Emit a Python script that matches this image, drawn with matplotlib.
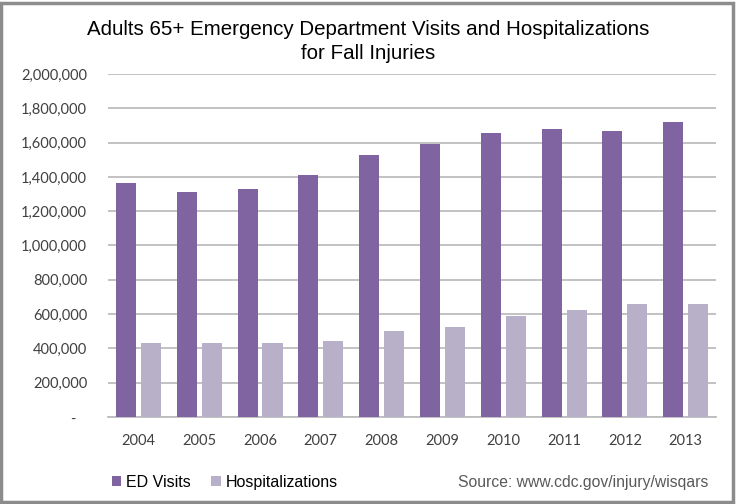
import numpy as np
import matplotlib
matplotlib.use('Agg')
import matplotlib.pyplot as plt
from matplotlib.patches import Rectangle

# dados
anos = ['2004', '2005', '2006', '2007', '2008', '2009', '2010', '2011', '2012', '2013']
ed_visits = [1365000, 1310000, 1329000, 1409000, 1528000, 1592000, 1654000, 1679000, 1666000, 1722000]
hospitalizacoes = [431000, 430000, 430000, 441000, 503000, 523000, 591000, 626000, 657000, 657000]
y_ticks = [0, 200000, 400000, 600000, 800000, 1000000, 1200000, 1400000, 1600000, 1800000, 2000000]
y_labels = ['-   '] + [f'{v:,}' for v in y_ticks[1:]]

cor_ed = '#8064A2'
cor_hosp = '#B8AFC8'
fonte_titulo = ['Liberation Sans', 'DejaVu Sans']
fonte_eixo = ['Lato', 'DejaVu Sans']

fig = plt.figure(figsize=(7.36, 5.04), dpi=100)
ax = fig.add_axes([0.1467, 0.1726, 0.8263, 0.6806])

x = np.arange(len(anos))
largura = 0.33
ax.bar(x - 0.205, ed_visits, largura, color=cor_ed, label='ED Visits', zorder=3)
ax.bar(x + 0.205, hospitalizacoes, largura, color=cor_hosp, label='Hospitalizations', zorder=3)

ax.set_xlim(-0.5, len(anos) - 0.5)
ax.set_ylim(0, 2000000)
ax.set_yticks(y_ticks)
ax.set_yticklabels(y_labels, family=fonte_eixo, fontsize=10.5, color='#404040')
ax.set_xticks(x)
ax.set_xticklabels(anos, family=fonte_eixo, fontsize=10.5, color='#404040')
ax.tick_params(axis='y', length=0, pad=15)
ax.tick_params(axis='x', length=0, pad=12)
ax.grid(axis='y', color='#BDBDBD', linewidth=1.3, zorder=0)
for lado in ['top', 'right', 'left']:
    ax.spines[lado].set_visible(False)
ax.spines['bottom'].set_color('#BDBDBD')
ax.spines['bottom'].set_linewidth(1.3)

fig.text(0.5, 0.917, 'Adults 65+ Emergency Department Visits and Hospitalizations\nfor Fall Injuries',
         ha='center', va='center', fontsize=14.8, family=fonte_titulo, linespacing=1.35)

fig.legend(loc='lower left', bbox_to_anchor=(0.132, 0.0), ncol=2, frameon=False,
           prop={'family': fonte_titulo, 'size': 11.5}, handlelength=0.6, handleheight=0.6,
           handletextpad=0.3, columnspacing=1.3)
fig.text(0.962, 0.043, 'Source: www.cdc.gov/injury/wisqars', ha='right', va='center',
         fontsize=11.3, family=fonte_titulo, color='#595959')

# moldura cinza em volta da figura
fig.patches.append(Rectangle((0.002, 0.003), 0.994, 0.992, transform=fig.transFigure,
                             fill=False, edgecolor='#8C8C8C', linewidth=2.5))

fig.savefig('out.png', dpi=100)
